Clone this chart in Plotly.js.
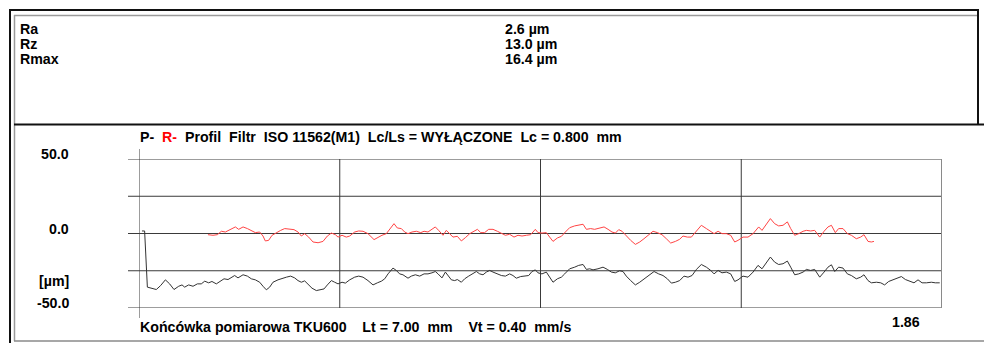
<!DOCTYPE html>
<html>
<head>
<meta charset="utf-8">
<script src="https://cdn.plot.ly/plotly-3.0.1.min.js"></script>
<style>
  html, body { margin: 0; padding: 0; background: #fff; }
  #chart { width: 984px; height: 343px; }
</style>
</head>
<body>
<div id="chart"></div>
<script>
// Roughness parameters shown in the header block
const paramNames = ['Ra', 'Rz', 'Rmax'];
const paramValues = ['2.6 µm', '13.0 µm', '16.4 µm'];

// Vertical scale labels (µm) and grid positions
const yTickVals = [50, 0, -50];
const yTickText = ['50.0', '0.0', '-50.0'];
const yGridVals = [50, 25, 0, -25, -50];
const xGridVals = [1.75, 3.5, 5.25];
const xRange = [0, 7.0];
const yRange = [-50, 50];

// Primary profile P: position along trace (mm) and height (µm)
const xP = [
  0.026,0.049,0.073,0.108,0.151,0.189,0.230,0.267,0.305,0.346,0.375,0.398,0.433,0.471,0.509,0.543,0.573,0.607,0.636,0.674,
  0.712,0.741,0.776,0.805,0.834,0.863,0.907,0.945,0.979,1.014,1.052,1.081,1.110,1.139,1.168,1.212,1.247,1.285,1.322,1.357,
  1.386,1.415,1.444,1.473,1.508,1.546,1.584,1.613,1.642,1.677,1.706,
  1.735,1.770,1.799,1.837,1.880,1.915,1.953,1.996,2.040,2.078,2.113,2.142,2.171,2.214,2.243,2.272,2.301,2.345,2.374,2.409,
  2.447,2.485,2.519,2.554,2.583,2.607,2.641,2.671,2.694,2.723,2.752,2.775,2.810,2.839,2.874,2.912,2.941,2.970,2.999,3.028,
  3.057,3.086,3.124,3.159,3.194,3.231,3.260,3.289,3.327,3.362,3.397,3.426,3.455,
  3.478,3.513,3.551,3.580,3.609,3.647,3.682,3.711,3.754,3.798,3.833,3.871,3.900,3.929,3.958,4.001,4.045,4.083,4.118,4.152,
  4.190,4.219,4.248,4.286,4.327,4.365,4.402,4.443,4.490,4.530,4.568,4.606,4.641,4.676,4.713,4.751,4.786,4.821,4.859,4.902,
  4.946,4.984,5.013,5.048,5.082,5.120,5.158,5.193,
  5.222,5.265,5.309,5.353,5.396,5.431,5.469,5.504,5.541,5.576,5.614,5.652,5.681,5.716,5.751,5.789,5.818,5.855,5.890,5.934,
  5.972,6.006,6.036,6.065,6.099,6.137,6.175,6.210,6.253,6.291,6.320,6.355,6.384,6.428,6.466,6.500,6.535,6.573,6.611,6.646,
  6.681,6.718,6.756,6.791,6.826,6.864,6.907,6.942,6.980
];
const yP = [
  1.7,1.7,-36.0,-36.7,-37.6,-34.9,-31.1,-33.8,-37.6,-35.4,-34.5,-36.0,-34.5,-35.4,-33.8,-33.8,-32.0,-33.1,-32.2,-33.8,
  -31.6,-30.4,-30.9,-29.5,-28.2,-29.8,-27.7,-28.6,-30.4,-31.1,-32.7,-35.4,-37.8,-36.0,-32.7,-31.1,-30.0,-29.3,-28.6,-29.8,
  -31.6,-32.7,-31.8,-33.8,-36.7,-38.3,-37.6,-37.2,-34.5,-31.6,-32.7,
  -33.8,-32.7,-33.3,-31.1,-29.3,-28.6,-29.3,-31.6,-34.5,-33.1,-32.0,-30.4,-27.1,-23.2,-24.8,-27.1,-27.7,-30.0,-28.6,-27.7,
  -28.6,-27.1,-27.1,-26.4,-25.5,-27.1,-29.8,-25.9,-28.2,-31.1,-31.6,-30.9,-32.7,-30.4,-28.6,-27.1,-25.5,-27.1,-27.7,-25.9,
  -24.8,-25.9,-27.1,-28.2,-28.6,-27.1,-28.2,-30.0,-28.9,-28.6,-28.2,-25.5,-24.4,
  -26.4,-27.1,-25.9,-29.3,-32.7,-30.4,-29.3,-27.1,-23.7,-22.6,-21.4,-20.8,-24.1,-23.7,-24.4,-23.7,-22.6,-24.1,-25.9,-26.4,
  -25.0,-25.5,-28.6,-31.6,-34.5,-32.7,-30.4,-28.2,-25.5,-27.1,-28.2,-30.4,-33.3,-32.7,-31.6,-28.6,-29.3,-28.2,-24.1,-20.8,
  -22.6,-24.8,-27.1,-24.8,-26.4,-25.9,-27.1,-32.2,
  -31.1,-28.6,-29.3,-25.9,-21.4,-23.7,-19.2,-15.8,-19.2,-20.8,-20.3,-18.5,-22.6,-27.7,-27.1,-25.9,-24.1,-24.8,-24.1,-29.3,
  -25.9,-22.6,-21.0,-25.5,-22.6,-23.2,-27.1,-28.2,-30.4,-29.3,-27.7,-31.6,-33.1,-32.7,-33.1,-34.5,-32.2,-31.1,-29.8,-28.9,
  -30.9,-32.0,-33.1,-31.1,-33.1,-33.1,-32.7,-33.1,-33.1
];

// Roughness profile R (filtered): position (mm) and height (µm)
const xR = [
  0.601,0.645,0.683,0.718,0.753,0.782,0.811,0.840,0.869,0.907,0.945,0.979,1.014,1.052,1.081,1.101,1.130,1.160,1.197,1.235,
  1.270,1.314,1.351,1.386,1.415,1.444,1.479,1.517,1.561,1.604,1.642,1.677,1.712,
  1.735,1.770,1.807,1.837,1.880,1.915,1.953,1.996,2.049,2.084,2.118,2.156,2.194,2.223,2.252,2.287,2.316,2.345,2.380,2.418,
  2.456,2.485,2.519,2.554,2.583,2.612,2.650,2.679,2.708,2.737,2.775,2.810,2.845,2.883,2.920,2.950,2.979,3.013,3.048,3.086,
  3.124,3.159,3.194,3.231,3.269,3.304,3.339,3.377,3.414,3.455,
  3.478,3.513,3.551,3.580,3.609,3.647,3.682,3.717,3.754,3.798,3.833,3.871,3.900,3.937,3.972,4.007,4.054,4.089,4.123,4.153,
  4.182,4.211,4.248,4.286,4.327,4.365,4.402,4.443,4.481,4.519,4.559,4.597,4.635,4.676,4.713,4.742,4.780,4.815,4.859,4.902,
  4.946,4.984,5.013,5.048,5.082,5.120,5.158,5.193,
  5.222,5.265,5.309,5.353,5.402,5.431,5.469,5.504,5.541,5.576,5.614,5.652,5.681,5.716,5.751,5.789,5.818,5.855,5.890,5.934,
  5.972,6.006,6.036,6.070,6.099,6.137,6.175,6.210,6.253,6.291,6.320,6.355,6.384,6.407
];
const yR = [
  -0.8,-1.2,-0.8,1.5,1.0,2.1,2.8,4.4,2.8,4.4,3.3,2.1,0.6,1.0,-1.7,-5.0,-4.6,-1.2,0.6,2.1,
  3.3,2.8,2.6,1.0,-1.7,-0.1,-2.4,-5.7,-6.2,-5.3,-1.7,0.3,-0.8,
  -2.4,-1.2,-2.4,-1.7,1.0,1.7,1.5,-0.1,-4.1,-2.4,-1.2,-0.1,3.7,6.6,3.7,3.3,1.0,-0.1,1.0,1.5,
  0.6,1.5,1.0,2.8,4.4,2.1,-1.2,2.1,-0.1,-2.4,-1.9,-5.0,-2.8,-0.1,1.5,2.8,0.6,0.6,2.8,2.8,
  1.5,-0.1,-1.2,-0.5,-2.4,-1.2,-1.7,-1.2,-0.8,2.8,
  0.6,0.3,0.6,-2.4,-5.3,-3.0,-1.9,1.0,3.9,5.1,5.5,6.2,2.8,3.3,2.8,3.3,4.4,2.8,1.0,0.3,
  2.6,1.5,-1.7,-4.6,-7.3,-5.7,-3.5,-1.2,1.5,0.6,-0.8,-3.5,-6.4,-5.3,-3.9,-1.7,-2.4,-2.4,1.7,5.5,
  3.3,1.5,-0.1,1.5,-0.1,-0.1,-1.2,-5.7,
  -4.6,-2.4,-2.4,-0.1,4.4,2.1,6.6,10.0,6.6,5.1,5.5,7.8,3.3,-1.2,-0.1,1.5,2.1,1.7,2.1,-2.4,
  1.5,4.4,5.5,0.6,3.3,3.3,-0.1,-1.2,-3.5,-2.4,-0.8,-5.3,-5.7,-5.3
];

// Page geometry (pixels) and helpers to place frame items in paper units
const W = 984, H = 343;
const M = { l: 139, r: 42, t: 159, b: 35 };
const pw = W - M.l - M.r, ph = H - M.t - M.b;
const px = x => (x - M.l) / pw;
const py = y => (H - M.b - y) / ph;

const FONT = 'Liberation Sans, Arial, sans-serif';
const FS = 14.2;
const NB = '\u00a0';
const sp = n => NB.repeat(n);

const gridColor = '#3a3a3a';
const shapes = [];

// horizontal grid lines, running a little left of the axis line
yGridVals.forEach(v => shapes.push({
  type: 'line', xref: 'paper', yref: 'y', x0: px(128), x1: 1, y0: v, y1: v,
  line: { color: gridColor, width: 1 }, layer: 'below'
}));
// vertical grid lines
xGridVals.forEach(v => shapes.push({
  type: 'line', xref: 'x', yref: 'y', x0: v, x1: v, y0: yRange[0], y1: yRange[1],
  line: { color: gridColor, width: 1 }, layer: 'below'
}));
// left axis line, extending above and below the grid
shapes.push({
  type: 'line', xref: 'x', yref: 'paper', x0: xRange[0], x1: xRange[0], y0: py(318), y1: py(149),
  line: { color: gridColor, width: 1 }, layer: 'below'
});
// right edge of the chart box
shapes.push({
  type: 'line', xref: 'x', yref: 'y', x0: xRange[1], x1: xRange[1], y0: yRange[0], y1: yRange[1],
  line: { color: '#8a8a8a', width: 2 }, layer: 'below'
});

// report frame
const dark = '#111', grey = '#9a9a9a';
const frame = [
  [10, 9, 10, H, dark, 2],          // outer left
  [9, 10, 979, 10, dark, 2],        // outer top
  [978, 9, 978, 125, dark, 2],      // right side of header
  [14.5, 15, 14.5, 341, grey, 1.5], // inner left
  [14, 15.5, 977, 15.5, grey, 1.5], // inner top
  [14, 124.5, W, 124.5, dark, 2],   // header separator
  [14, 341, W, 341, '#8a8a8a', 1.5] // bottom
];
frame.forEach(f => shapes.push({
  type: 'line', xref: 'paper', yref: 'paper',
  x0: px(f[0]), y0: py(f[1]), x1: px(f[2]), y1: py(f[3]),
  line: { color: f[4], width: f[5] }, layer: 'above'
}));

const bold = (size, color) => ({ family: FONT, size: size, color: color || '#000', weight: 700 });
const annotations = [];

// header parameters
paramNames.forEach((n, i) => {
  const yc = [28.5, 44, 59.5][i];
  annotations.push({ xref: 'paper', yref: 'paper', x: px(18), y: py(yc), xanchor: 'left', yanchor: 'middle',
    text: n, showarrow: false, font: bold(FS) });
  annotations.push({ xref: 'paper', yref: 'paper', x: px(503), y: py(yc), xanchor: 'left', yanchor: 'middle',
    text: paramValues[i], showarrow: false, font: bold(FS) });
});

// vertical scale labels
yTickVals.forEach((v, i) => annotations.push({
  xref: 'paper', yref: 'y', x: px(71), y: v, xanchor: 'right', yanchor: 'bottom', yshift: -5,
  text: yTickText[i], showarrow: false, font: bold(FS)
}));
annotations.push({ xref: 'paper', yref: 'paper', x: px(71), y: py(280.5), xanchor: 'right', yanchor: 'middle',
  text: '[µm]', showarrow: false, font: bold(FS) });

// filter description above the chart
annotations.push({ xref: 'paper', yref: 'paper', x: px(138), y: py(136.5), xanchor: 'left', yanchor: 'middle',
  text: 'P-' + sp(2) + '<span style="color:#ff0000">R-</span>' + sp(2) + 'Profil' + sp(2) + 'Filtr' + sp(2) +
        'ISO 11562(M1)' + sp(2) + 'Lc/Ls = WYŁĄCZONE' + sp(2) + 'Lc = 0.800' + sp(2) + 'mm',
  showarrow: false, font: bold(FS) });

// measurement conditions below the chart
annotations.push({ xref: 'paper', yref: 'paper', x: px(138), y: py(326.5), xanchor: 'left', yanchor: 'middle',
  text: 'Końcówka pomiarowa TKU600' + sp(4) + 'Lt = 7.00' + sp(2) + 'mm' + sp(4) + 'Vt = 0.40' + sp(2) + 'mm/s',
  showarrow: false, font: bold(FS) });
annotations.push({ xref: 'paper', yref: 'paper', x: px(922), y: py(322), xanchor: 'right', yanchor: 'middle',
  text: '1.86', showarrow: false, font: bold(FS) });

const traces = [
  { x: xP, y: yP, type: 'scatter', mode: 'lines', name: 'P',
    line: { color: '#333333', width: 1 }, hoverinfo: 'skip' },
  { x: xR, y: yR, type: 'scatter', mode: 'lines', name: 'R',
    line: { color: '#ff4444', width: 1 }, hoverinfo: 'skip' }
];

const axisCommon = { showgrid: false, zeroline: false, showline: false, showticklabels: false, ticks: '', fixedrange: true };

const layout = {
  width: W, height: H,
  margin: M,
  paper_bgcolor: '#fff', plot_bgcolor: '#fff',
  showlegend: false,
  xaxis: Object.assign({ range: xRange }, axisCommon),
  yaxis: Object.assign({ range: yRange }, axisCommon),
  shapes: shapes,
  annotations: annotations,
  font: { family: FONT }
};

Plotly.newPlot('chart', traces, layout, { displayModeBar: false, staticPlot: true });
</script>
</body>
</html>
